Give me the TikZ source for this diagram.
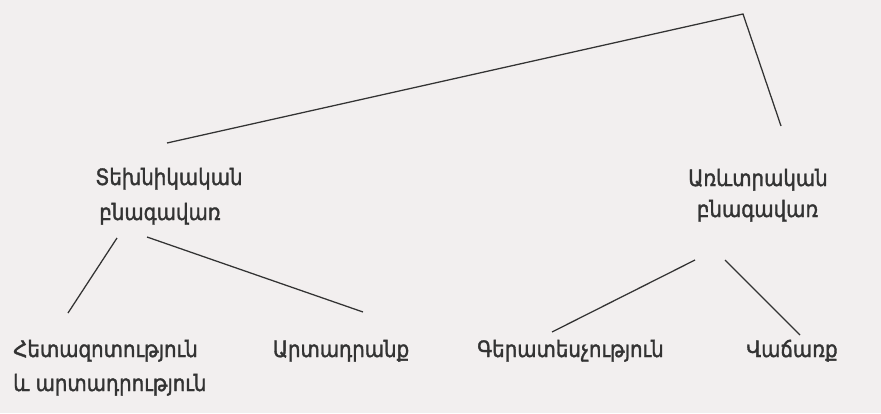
\documentclass[tikz,border=0pt]{standalone}
\usepackage{fontspec}
\newfontfamily\armfont[FakeStretch=0.88,FakeBold=1.6]{DejaVu Sans}
\usetikzlibrary{positioning,calc}
\definecolor{paper}{HTML}{F2EFEF}
\definecolor{inkgrey}{HTML}{333333}

\begin{document}
\begin{tikzpicture}[
  lbl/.style={font=\armfont\fontsize{16}{18}\selectfont, text=inkgrey, inner sep=0pt, anchor=base},
  lblw/.style={lbl, anchor=base west},
  link/.style={draw=inkgrey, line width=0.9pt},
]

% page size
\def\pw{22.025}
\def\ph{10.325}
\useasboundingbox (0,0) rectangle (\pw,\ph);
\fill[paper] (0,0) rectangle (\pw,\ph);

% ---------- fields ----------
\node[lbl] (tech1) at (4.225,5.7) {Տեխնիկական};
\node[lbl] (tech2) at (4.0,4.825) {բնագավառ};
\node[lbl] (com1) at (18.95,5.675) {Առևտրական};
\node[lbl] (com2) at (18.94,4.9) {բնագավառ};

% ---------- bottom row ----------
\def\yrow{1.4}
\node[lblw] (rd1) at (0.325,\yrow) {Հետազոտություն};
\node[lblw] (rd2) at (0.325,0.55) {և արտադրություն};
\node[lbl] (prod) at (8.525,\yrow) {Արտադրանք};
\node[lblw] (dept) at (11.925,\yrow) {Գերատեսչություն};
\node[lbl] (sales) at (19.8,\yrow) {Վաճառք};

% apex of the two top lines
\coordinate (top) at (18.575,9.975);

% ---------- links ----------
\draw[link] ([shift={(-0.05,1.05)}]tech1.base) -- (top)
  -- ([shift={(0.575,1.5)}]com1.base);
\draw[link] ([shift={(-1.075,-0.45)}]tech2.base) -- ([shift={(1.375,1.1)}]rd1.base west);
\draw[link] ([shift={(-0.325,-0.425)}]tech2.base) -- ([shift={(0.55,1.125)}]prod.base);
\draw[link] ([shift={(-1.565,-1.075)}]com2.base) -- ([shift={(1.875,0.625)}]dept.base west);
\draw[link] ([shift={(-0.815,-1.075)}]com2.base) -- ([shift={(0.2,0.55)}]sales.base);

\end{tikzpicture}
\end{document}
